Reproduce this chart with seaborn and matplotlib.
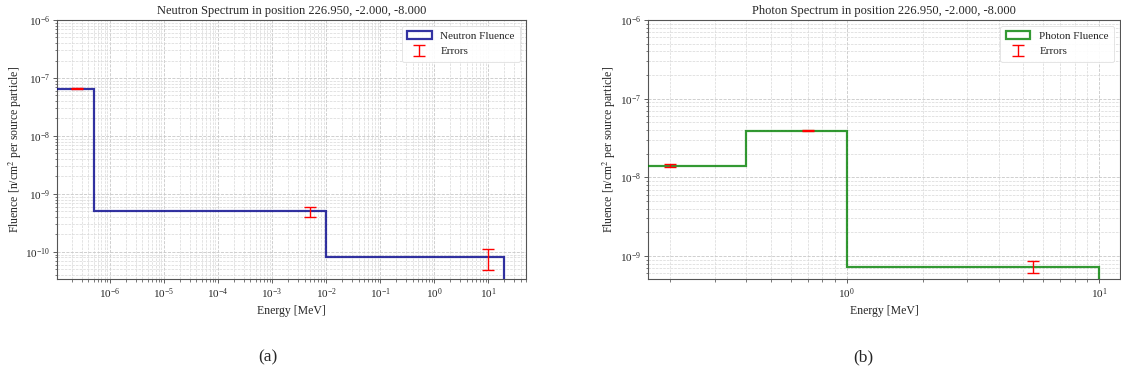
import numpy as np
import matplotlib
matplotlib.use("Agg")
import matplotlib.pyplot as plt
from matplotlib.patches import Patch
import seaborn as sns

# Neutron spectrum: energy bin edges [MeV], fluence per bin and relative errors
neutron_edges = [0.0, 5e-7, 1e-2, 20.0]
neutron_fluence = [6.5e-8, 5.0e-10, 8.0e-11]
neutron_rel_err = [0.015, 0.20, 0.40]

# Photon spectrum
photon_edges = [0.0, 0.4, 1.0, 10.0]
photon_fluence = [1.41e-8, 3.92e-8, 7.3e-10]
photon_rel_err = [0.05, 0.015, 0.17]

position = "226.950, -2.000, -8.000"
panel_labels = ["(a)", "(b)"]

sns.set_theme(style="ticks")
plt.rcParams["font.family"] = ["Liberation Serif", "DejaVu Serif"]
plt.rcParams["mathtext.fontset"] = "stix"

fig = plt.figure(figsize=(11.21, 3.74), dpi=100)
ax_n = fig.add_axes([0.0508, 0.254, 0.4184, 0.6925])
ax_p = fig.add_axes([0.578, 0.254, 0.421, 0.6925])


def draw_spectrum(ax, edges, fluence, rel_err, color, name, title, xlim, ylim):
    edges = np.asarray(edges)
    fluence = np.asarray(fluence)
    centers = 0.5 * (edges[:-1] + edges[1:])
    err = fluence * np.asarray(rel_err)
    ax.stairs(fluence, edges, color=color, alpha=0.8, linewidth=1.6,
              zorder=3)
    eb = ax.errorbar(centers, fluence, yerr=err, fmt="none", ecolor="red",
                     elinewidth=1.0, capsize=4, capthick=1.0, label="Errors",
                     zorder=4)
    ax.set_xscale("log")
    ax.set_yscale("log")
    ax.set_xlim(*xlim)
    ax.set_ylim(*ylim)
    ax.grid(True, which="major", color="#c8c8c8", linestyle="--", linewidth=0.6)
    ax.grid(True, which="minor", color="#d8d8d8", linestyle="--", linewidth=0.5)
    ax.set_axisbelow(True)
    ax.set_title(title, fontsize=9, pad=4)
    ax.set_xlabel("Energy [MeV]", fontsize=8.5, labelpad=3)
    ax.set_ylabel("Fluence [n/cm$^2$ per source particle]", fontsize=8.5,
                  labelpad=1)
    ax.tick_params(axis="both", which="major", labelsize=8, length=3,
                   width=0.6, pad=2, color="#444444")
    ax.tick_params(axis="both", which="minor", length=1.8, width=0.5,
                   color="#444444")
    for sp in ax.spines.values():
        sp.set_color("#555555")
        sp.set_linewidth(0.8)
    step_handle = Patch(facecolor="none", edgecolor=color, alpha=0.8,
                        linewidth=1.6, label=name)
    leg = ax.legend(handles=[step_handle, eb], loc="upper right", fontsize=8,
                    frameon=True, framealpha=0.9, edgecolor="#dddddd",
                    borderpad=0.5, handlelength=2.2)
    leg.get_frame().set_linewidth(0.6)


draw_spectrum(ax_n, neutron_edges, neutron_fluence, neutron_rel_err,
              "darkblue", "Neutron Fluence",
              f"Neutron Spectrum in position {position}",
              (1.05e-7, 50.0), (3.4e-11, 1e-6))
draw_spectrum(ax_p, photon_edges, photon_fluence, photon_rel_err,
              "green", "Photon Fluence",
              f"Photon Spectrum in position {position}",
              (0.163, 12.1), (5.1e-10, 1e-6))

fig.text(268 / 1121, 1 - 357 / 374, panel_labels[0], ha="center",
         va="center", fontsize=12.5)
fig.text(863 / 1121, 1 - 357 / 374, panel_labels[1], ha="center",
         va="center", fontsize=12.5)

fig.savefig("out.png", dpi=100)
